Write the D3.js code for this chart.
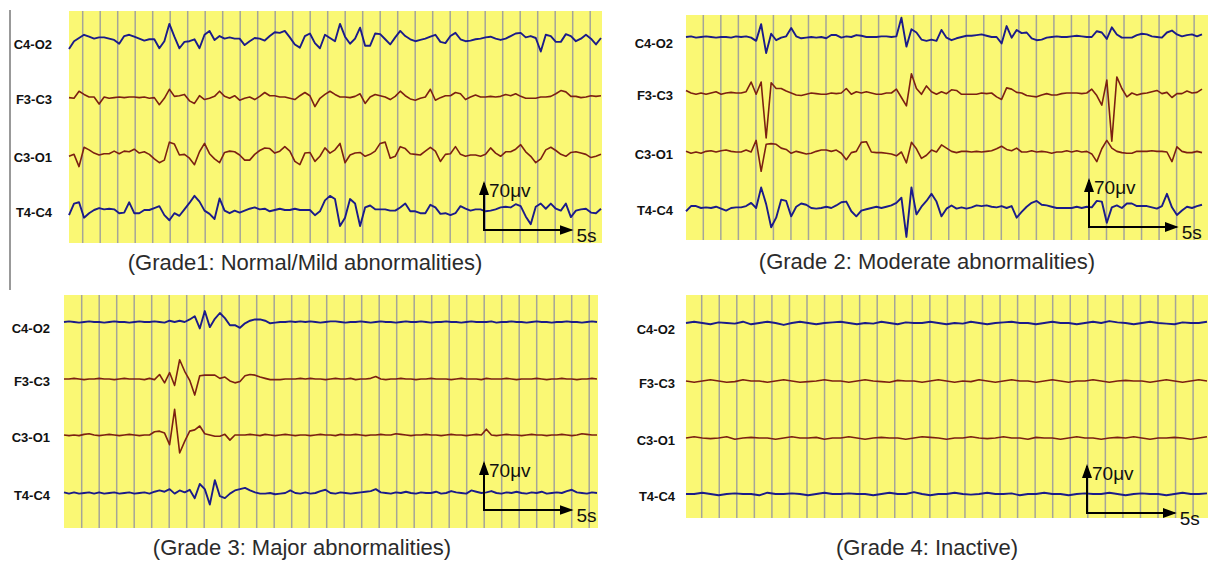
<!DOCTYPE html>
<meta charset="utf-8">
<style>
 body { margin: 0; background: #fff; }
 svg { font-family: "Liberation Sans", Arial, sans-serif; }
 .bg { fill: #faf874; }
 .grid line { stroke: #a5a598; stroke-width: 1.5; }
 .label { font-size: 13px; font-weight: bold; fill: #111; }
 .caption { font-size: 22px; fill: #2b2b2b; }
 .bar line { stroke: #000; stroke-width: 2; }
 .bar text { font-size: 19px; fill: #111; }
 .trace { fill: none; stroke-linejoin: round; }
</style>
<svg width="1208" height="562">
  <defs>
    <marker id="arrow" viewBox="0 -6 14 12" refX="12" refY="0" markerWidth="14" markerHeight="12" markerUnits="userSpaceOnUse" orient="auto">
      <path d="M0,-5L14,0L0,5Z" fill="#000"/>
    </marker>
  </defs>
</svg>
<script src="https://cdn.jsdelivr.net/npm/d3@7"></script>
<script>

 var channels = ['C4-O2', 'F3-C3', 'C3-O1', 'T4-C4']
 var channelColors = ['#1b1b8a', '#7c2012', '#7c2012', '#1b1b8a']
 var captions = ['(Grade1: Normal/Mild abnormalities)', '(Grade 2: Moderate abnormalities)',
                 '(Grade 3: Major abnormalities)', '(Grade 4: Inactive)']
 var barAmp = 70   // μV
 var barTime = 5   // s

 // amplitudes in μV, one sample every ~0.29 s
 var g1C4O2 = [-17,-5,0,5,2,-1,1,1,-1,-3,-9,3,5,2,-1,-4,-2,-2,-16,-5,22,2,-16,-6,-5,-2,-16,5,11,-3,3,-1,1,-1,-1,-11,-5,0,-1,-4,3,9,8,11,1,-10,-15,
               3,7,-8,-16,5,0,-5,22,2,-9,-1,16,-12,-12,7,6,-2,-10,1,11,3,-2,-5,-3,-1,2,5,-6,-8,3,8,-2,-5,-4,-2,-1,1,2,-1,-3,-1,3,7,8,1,3,0,-21,5,3,-6,-6,6,3,-5,-1,5,-1,-10,0]
 var g1F3C3 = [-1,-2,9,4,0,0,-11,0,-2,-1,0,-1,0,0,-1,0,-2,-1,-12,-2,12,1,2,4,-6,-10,2,-4,-2,1,9,1,-2,2,-5,-2,0,-4,1,7,2,2,0,0,-2,-4,2,
               7,2,-15,-2,4,9,4,0,0,-1,1,5,-10,0,4,2,0,-4,1,9,2,-3,-5,-2,0,12,-5,-1,2,2,7,5,-4,0,3,0,0,1,0,1,4,2,5,1,-2,-2,-2,0,0,1,5,10,8,1,1,-1,0,2,1,2]
 var g1C3O1 = [-2,1,-18,12,8,3,0,2,2,6,2,6,5,9,3,5,1,-6,-12,-8,20,17,0,1,-5,-15,5,18,2,-6,-12,4,6,5,0,-8,-8,1,7,11,10,3,6,13,6,-10,-15,
               3,4,-10,-2,11,3,8,18,-12,0,3,4,-2,1,6,18,20,-5,-2,13,10,2,1,0,6,12,6,-10,1,2,13,1,-2,0,0,-2,1,11,3,-2,5,5,9,16,5,-2,-12,-6,8,12,7,1,-2,4,5,3,1,-4,-2,1]
 var g1T4C4 = [-8,10,12,-12,-5,0,3,1,2,1,-5,-4,12,-5,-5,0,0,3,6,-8,-16,-5,-9,1,11,22,13,-1,-6,-14,18,-1,-5,-1,-4,-1,2,4,1,2,-2,0,2,0,0,2,0,
               0,0,-8,-2,15,22,17,-25,-12,17,10,-25,4,7,1,1,1,-1,-1,4,10,-2,-2,-5,-5,8,4,-6,-5,-8,-5,6,2,-1,1,1,-2,-1,1,4,5,4,9,6,-10,-22,5,10,2,10,2,-1,10,-11,-1,1,2,-4,-5,2]

 var g2C4O2 = [0,1,-1,0,1,0,-1,0,0,-1,1,0,1,-1,-6,20,-25,5,-5,-1,1,14,1,-2,-1,0,-1,0,-2,3,3,-1,1,0,3,2,0,0,0,1,1,0,1,30,-15,12,
               7,-4,-6,-4,-6,11,-1,-5,-2,0,2,2,3,4,2,0,0,-10,17,-1,11,6,7,-2,-5,-4,-1,0,1,0,0,1,2,1,0,0,9,7,-3,15,4,-1,-1,-1,3,5,4,1,0,-1,7,10,4,1,3,4,1,4]
 var g2F3C3 = [4,0,-2,0,-2,0,2,-2,0,1,0,0,2,17,-2,17,-70,16,7,7,3,0,-3,-4,-2,0,-1,-2,-2,0,-1,0,7,-2,2,0,2,0,-2,-2,0,0,6,-7,-20,30,
               7,-2,11,2,-2,2,-1,5,4,-2,-2,-2,-2,0,-1,0,-6,-10,8,6,1,0,-4,-5,-6,-3,-1,-3,-3,-1,0,0,0,-1,0,6,-4,-19,20,-75,25,7,-6,0,-3,-1,0,2,4,-1,1,-7,-1,-1,3,0,1,6]
 var g2C3O1 = [1,-2,0,-2,1,2,0,2,3,1,0,0,3,0,18,-30,12,13,12,6,4,-2,1,-1,-3,-2,1,3,3,1,3,-2,-12,-1,1,15,16,0,-1,-1,-2,-3,-6,0,-17,15,
               5,-10,-5,3,0,11,6,1,-1,1,1,0,1,0,1,2,5,9,4,2,6,0,0,2,0,1,0,-2,0,0,2,0,2,0,1,-3,-15,5,18,6,1,-1,-2,-2,1,1,1,2,1,1,0,-15,8,1,-1,-1,1,-1]
 var g2T4C4 = [-5,3,3,0,1,0,2,-1,-4,0,1,1,3,8,0,32,6,-30,-15,13,11,-13,2,7,5,0,-1,0,2,0,4,9,10,-5,-13,-4,-2,0,2,0,2,4,8,16,-45,32,
               -10,2,11,22,10,-13,-1,4,-1,1,-1,1,4,3,4,2,1,3,0,3,-15,-6,2,8,11,5,4,2,0,0,0,0,2,0,2,1,11,10,-23,1,4,0,7,7,3,3,3,1,-1,3,22,1,-11,-4,2,0,3,5]

 var g3C4O2 = [0,1,0,-1,0,1,0,0,-1,0,1,0,0,-1,0,1,0,0,1,0,-1,2,0,2,0,4,9,-10,17,-8,5,14,6,-5,-5,-9,-2,2,4,4,2,-2,-1,0,0,1,0,1,
               0,1,0,-1,0,1,1,0,-1,0,0,1,0,-1,0,1,0,0,-1,0,1,0,0,1,0,-1,0,0,1,0,0,-1,0,1,0,0,0,1,-1,0,0,1,0,0,-1,0,1,0,0,-1,0,0,1,0,0,-1,0,1,0]
 var g3F3C3 = [0,0,1,0,-1,0,0,1,0,0,-1,0,1,0,0,0,-1,1,-1,7,-6,10,-10,30,12,-2,-25,5,6,6,6,1,3,-3,-6,-4,5,7,6,3,1,-1,-1,-1,0,0,0,1,
               0,1,0,0,-1,0,1,0,0,1,-1,0,0,1,4,0,-1,0,0,1,0,0,-1,0,0,1,0,0,0,-1,0,1,0,0,0,-1,1,0,0,0,1,0,-1,0,0,0,1,0,-1,0,0,1,0,0,-1,0,0,1,0]
 var g3C3O1 = [0,-1,0,-1,1,2,0,-1,0,1,0,-1,0,1,0,-1,0,0,5,6,3,-15,40,-28,-10,6,8,14,2,0,-2,-2,1,-8,0,0,0,1,0,-1,1,0,-1,0,1,0,-1,0,
               0,-1,0,1,0,0,-1,1,0,0,1,0,-1,0,0,1,0,0,2,1,0,-1,0,0,1,0,0,-1,0,1,0,0,-1,0,1,0,9,0,-1,0,1,0,0,-1,0,1,0,0,-1,0,0,1,0,-1,0,2,1,0,0]
 var g3T4C4 = [1,-1,1,-1,0,1,-1,1,-1,0,1,-1,0,1,-1,0,1,-1,2,4,2,6,-1,4,1,5,-8,14,6,-18,20,-5,-8,-1,4,6,8,4,1,-1,-1,0,-2,-1,0,4,0,-1,
               1,-1,0,3,5,0,-1,1,0,-1,0,1,2,3,6,1,0,-1,1,0,2,0,-1,1,0,0,2,-1,0,3,1,0,-1,4,2,0,1,3,0,-1,1,0,2,0,-1,1,0,2,-1,0,1,0,3,5,1,0,-1,1,0]

 var g4C4O2 = [0,2,0,-2,1,0,-1,2,-2,0,2,0,-3,0,2,0,-2,0,1,2,0,-2,0,-1,2,0,-2,1,0,0,2,0,-2,0,-1,2,0,-2,0,1,2,0,0,-2,0,2,0,0,-2,0,2,0,3,1,0,-2,0,2,0,-1,-2,1,0,0,2]
 var g4F3C3 = [0,-2,0,2,0,-2,-1,2,0,0,-2,0,2,0,-2,-1,0,2,0,0,-2,0,2,0,-1,-2,1,0,0,-2,0,2,0,-2,0,-1,2,0,-2,0,2,0,0,-2,0,2,0,-2,0,0,2,0,-2,0,1,0,0,-2,0,2,0,-2,0,2,0]
 var g4C3O1 = [0,2,0,-1,0,2,-2,0,1,0,0,-2,0,2,0,0,1,-2,0,0,2,0,-2,0,1,0,0,-2,0,2,1,0,-2,0,0,2,0,-1,0,2,0,0,-2,1,0,0,-2,0,2,0,0,-2,0,1,0,2,0,-2,0,0,1,0,-2,0,2]
 var g4T4C4 = [0,0,2,0,-2,0,1,0,0,-2,2,0,0,1,0,-2,0,2,0,0,1,0,0,-2,0,2,0,0,3,0,-2,0,0,2,0,-1,0,2,0,0,1,-2,0,0,2,0,0,-2,0,1,0,0,2,0,-2,0,1,0,0,-2,0,2,0,0,1]

 var traces = [
   [g1C4O2, g1F3C3, g1C3O1, g1T4C4],
   [g2C4O2, g2F3C3, g2C3O1, g2T4C4],
   [g3C4O2, g3F3C3, g3C3O1, g3T4C4],
   [g4C4O2, g4F3C3, g4C3O1, g4T4C4]
 ]

 // panel geometry
 var layout = [
   {x0: 69, x1: 602, y0: 11, y1: 243, end: 601, grid0: 82.7, step: 17.5, bases: [38, 97, 155, 210], labelX: 52, bx: 484, by: 230, cx: 305, cy: 270},
   {x0: 686, x1: 1208, y0: 15, y1: 240, end: 1202, grid0: 703.3, step: 17.53, bases: [37, 93, 152, 208], labelX: 673, bx: 1089, by: 227, cx: 927, cy: 269},
   {x0: 64, x1: 598, y0: 295, y1: 528, end: 597, grid0: 81.7, step: 17.5, bases: [322, 379, 435, 493], labelX: 50, bx: 484, by: 510, cx: 302, cy: 555},
   {x0: 686, x1: 1208, y0: 295, y1: 518, end: 1207, grid0: 701.7, step: 17.55, bases: [323, 381, 438, 494], labelX: 675, bx: 1087, by: 513, cx: 927, cy: 555}
 ]
 var labelShift = [6, 2, 2, 2]

 var svg = d3.select('svg')
 var amp = d3.scaleLinear().domain([0, barAmp]).range([0, 45])

 svg.append('line')
    .attr('x1', 10).attr('x2', 10).attr('y1', 10).attr('y2', 290)
    .attr('stroke', '#777').attr('stroke-width', 1.5)

 layout.forEach(function (p, pi) {
   var g = svg.append('g').attr('class', 'panel')
   var sec = d3.scaleLinear().domain([0, 1]).range([0, p.step])

   g.append('rect').attr('class', 'bg')
    .attr('x', p.x0).attr('y', p.y0)
    .attr('width', p.x1 - p.x0).attr('height', p.y1 - p.y0)

   var nGrid = Math.floor((p.x1 - p.grid0) / p.step) + 1
   g.append('g').attr('class', 'grid')
    .selectAll('line').data(d3.range(nGrid)).enter().append('line')
    .attr('x1', d => p.grid0 + sec(d)).attr('x2', d => p.grid0 + sec(d))
    .attr('y1', p.y0).attr('y2', p.y1)

   traces[pi].forEach(function (vals, ci) {
     var x = d3.scaleLinear().domain([0, vals.length - 1]).range([p.x0, p.end])
     var line = d3.line()
                  .x((d, i) => x(i))
                  .y(d => p.bases[ci] - amp(d))
     g.append('path').attr('class', 'trace')
      .datum(vals)
      .attr('d', line)
      .attr('stroke', channelColors[ci])
      .attr('stroke-width', ci === 0 || ci === 3 ? 1.9 : 1.6)

     g.append('text').attr('class', 'label')
      .attr('x', p.labelX).attr('y', p.bases[ci] + labelShift[ci])
      .attr('text-anchor', 'end')
      .attr('dominant-baseline', 'central')
      .text(channels[ci])
   })

   var bar = g.append('g').attr('class', 'bar')
   bar.append('line')
      .attr('x1', p.bx).attr('y1', p.by)
      .attr('x2', p.bx).attr('y2', p.by - amp(barAmp) - 2)
      .attr('marker-end', 'url(#arrow)')
   bar.append('line')
      .attr('x1', p.bx - 1).attr('y1', p.by)
      .attr('x2', p.bx + sec(barTime)).attr('y2', p.by)
      .attr('marker-end', 'url(#arrow)')
   bar.append('text')
      .attr('x', p.bx + 5).attr('y', p.by - amp(barAmp) + 12)
      .text(barAmp + 'μv')
   bar.append('text')
      .attr('x', p.bx + sec(barTime) + 5).attr('y', p.by + 12)
      .text(barTime + 's')

   g.append('text').attr('class', 'caption')
    .attr('x', p.cx).attr('y', p.cy)
    .attr('text-anchor', 'middle')
    .text(captions[pi])
 })

</script>
